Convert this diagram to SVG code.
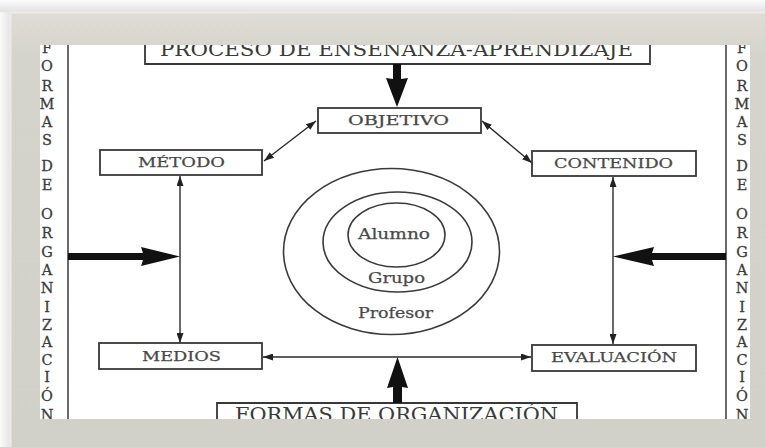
<svg xmlns="http://www.w3.org/2000/svg" width="765" height="447" viewBox="0 0 765 447">
<defs>
<linearGradient id="topShade" x1="0" y1="0" x2="0" y2="1"><stop offset="0" stop-color="#fbfbfb"/><stop offset="1" stop-color="#e2e2e2"/></linearGradient>
<linearGradient id="leftShade" x1="0" y1="0" x2="1" y2="0"><stop offset="0" stop-color="#fbfbfb"/><stop offset="1" stop-color="#e4e4e4"/></linearGradient>
<linearGradient id="frameG" x1="0" y1="0" x2="0" y2="1"><stop offset="0" stop-color="#dedcd6"/><stop offset="0.1" stop-color="#d5d4cc"/><stop offset="1" stop-color="#d2d1c9"/></linearGradient>
<clipPath id="inner"><rect x="40" y="45" width="710" height="374"/></clipPath>
<marker id="ah" viewBox="0 0 10 7" refX="10" refY="3.5" markerWidth="10" markerHeight="7" markerUnits="userSpaceOnUse" orient="auto-start-reverse"><path d="M0,0 L10,3.5 L0,7 z" fill="#222"/></marker>
<style>
.box{fill:#fff;stroke:#383838;stroke-width:1.8}
.lbl{font-family:"DejaVu Serif","Liberation Serif",serif;font-size:13.5px;fill:#484848;stroke:#484848;stroke-width:0.25;text-anchor:start}
.big{font-family:"DejaVu Serif","Liberation Serif",serif;font-size:18px;fill:#3a3a3a}
.vt{font-family:"DejaVu Serif","Liberation Serif",serif;font-size:14.5px;fill:#3c3c3c;stroke:#3c3c3c;stroke-width:0.3;text-anchor:middle}
.circ{fill:none;stroke:#3a3a3a;stroke-width:1.6}
.ctx{font-family:"DejaVu Serif","Liberation Serif",serif;font-size:14.5px;fill:#4a4a4a;stroke:#4a4a4a;stroke-width:0.25}
.con{stroke:#2a2a2a;stroke-width:1.4;fill:none;marker-start:url(#ah);marker-end:url(#ah)}
.thick{fill:#111}
.vline{stroke:#444;stroke-width:1.6}
</style>
</defs>
<rect width="765" height="447" fill="#fff"/>
<rect x="0" y="0" width="765" height="12" fill="url(#topShade)"/>
<rect x="0" y="12" width="10" height="435" fill="url(#leftShade)"/>
<rect x="10" y="12" width="755" height="435" fill="url(#frameG)"/>
<path d="M10.5,447 V12.5 H765" fill="none" stroke="#ecebe6" stroke-width="2"/>
<rect x="40" y="45" width="710" height="374" fill="#fff"/>
<g clip-path="url(#inner)">
<g id="strip-left">
<line class="vline" x1="68" y1="45" x2="68" y2="419"/>
<text class="vt" x="47"><tspan x="47" y="53">F</tspan><tspan x="47" y="71">O</tspan><tspan x="47" y="91">R</tspan><tspan x="47" y="109">M</tspan><tspan x="47" y="127">A</tspan><tspan x="47" y="145">S</tspan><tspan x="47" y="171">D</tspan><tspan x="47" y="190">E</tspan><tspan x="47" y="219">O</tspan><tspan x="47" y="238">R</tspan><tspan x="47" y="257">G</tspan><tspan x="47" y="275">A</tspan><tspan x="47" y="293">N</tspan><tspan x="47" y="312">I</tspan><tspan x="47" y="330">Z</tspan><tspan x="47" y="347">A</tspan><tspan x="47" y="365">C</tspan><tspan x="47" y="382">I</tspan><tspan x="47" y="401">Ó</tspan><tspan x="47" y="420">N</tspan></text>
</g>
<g id="strip-right">
<line class="vline" x1="726" y1="45" x2="726" y2="419"/>
<text class="vt" x="742"><tspan x="742" y="53">F</tspan><tspan x="742" y="71">O</tspan><tspan x="742" y="91">R</tspan><tspan x="742" y="109">M</tspan><tspan x="742" y="127">A</tspan><tspan x="742" y="145">S</tspan><tspan x="742" y="171">D</tspan><tspan x="742" y="190">E</tspan><tspan x="742" y="219">O</tspan><tspan x="742" y="238">R</tspan><tspan x="742" y="257">G</tspan><tspan x="742" y="275">A</tspan><tspan x="742" y="293">N</tspan><tspan x="742" y="312">I</tspan><tspan x="742" y="330">Z</tspan><tspan x="742" y="347">A</tspan><tspan x="742" y="365">C</tspan><tspan x="742" y="382">I</tspan><tspan x="742" y="401">Ó</tspan><tspan x="742" y="420">N</tspan></text>
</g>
<g id="proceso">
<path class="box" d="M145,38 V64 H650 V38"/>
<text class="big" x="160" y="56" textLength="473" lengthAdjust="spacingAndGlyphs">PROCESO DE ENSEÑANZA-APRENDIZAJE</text>
</g>
<g id="formas">
<path class="box" d="M217,430 V403 H577 V430"/>
<text class="big" x="235" y="421" textLength="323" lengthAdjust="spacingAndGlyphs">FORMAS DE ORGANIZACIÓN</text>
</g>
</g>
<g id="connectors">
<line class="con" x1="316" y1="121" x2="264" y2="161"/>
<line class="con" x1="482" y1="121" x2="532" y2="163"/>
<line class="con" x1="180" y1="176" x2="180" y2="343"/>
<line class="con" x1="613" y1="177" x2="613" y2="344"/>
<line class="con" x1="263" y1="357" x2="531" y2="357"/>
<path class="thick" d="M393,64 H401 V79 L408,78 L397,107 L386,78 L393,79 Z"/>
<path class="thick" d="M393,403 H402 V387 L408,388 L397.5,357 L387,388 L393,387 Z"/>
<path class="thick" d="M68,253 H143 L141,247 L180,256.5 L141,266 L143,260 H68 Z"/>
<path class="thick" d="M726,253 H652 L654,247 L613,256.5 L654,266 L652,260 H726 Z"/>
</g>
<g id="objetivo">
<rect class="box" x="318" y="108" width="163" height="25"/>
<text class="lbl" x="348" y="125" textLength="101" lengthAdjust="spacingAndGlyphs">OBJETIVO</text>
</g>
<g id="metodo">
<rect class="box" x="100" y="150" width="162" height="25"/>
<text class="lbl" x="138" y="167" textLength="87" lengthAdjust="spacingAndGlyphs">MÉTODO</text>
</g>
<g id="contenido">
<rect class="box" x="532" y="151" width="164" height="25"/>
<text class="lbl" x="554" y="168" textLength="119" lengthAdjust="spacingAndGlyphs">CONTENIDO</text>
</g>
<g id="medios">
<rect class="box" x="99" y="343" width="163" height="26"/>
<text class="lbl" x="142" y="361" textLength="79" lengthAdjust="spacingAndGlyphs">MEDIOS</text>
</g>
<g id="evaluacion">
<rect class="box" x="532" y="345" width="164" height="26"/>
<text class="lbl" x="551" y="362" textLength="126" lengthAdjust="spacingAndGlyphs">EVALUACIÓN</text>
</g>
<g id="profesor">
<ellipse class="circ" cx="391.5" cy="251.5" rx="108" ry="83"/>
<text class="ctx" x="358" y="318" textLength="75" lengthAdjust="spacingAndGlyphs">Profesor</text>
</g>
<g id="grupo">
<ellipse class="circ" cx="397.5" cy="242" rx="74.5" ry="50"/>
<text class="ctx" x="368" y="283" textLength="57" lengthAdjust="spacingAndGlyphs">Grupo</text>
</g>
<g id="alumno">
<ellipse class="circ" cx="396.5" cy="235" rx="48.5" ry="32"/>
<text class="ctx" x="358" y="239" textLength="72" lengthAdjust="spacingAndGlyphs">Alumno</text>
</g>
</svg>
